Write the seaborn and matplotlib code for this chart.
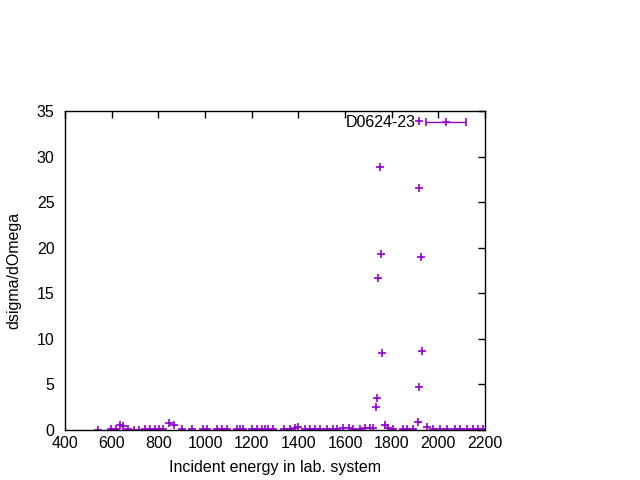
"""
Differential cross section vs incident energy (D0624-23)
"""
import matplotlib
matplotlib.use("Agg")
import matplotlib.pyplot as plt
from matplotlib.container import ErrorbarContainer
from matplotlib.legend_handler import HandlerErrorbar
import seaborn as sns
import pandas as pd

# data
energy = [543, 596, 619, 636, 647, 669, 696, 719, 743, 764, 786, 804, 821, 846, 869,
          900, 943, 993, 1007, 1050, 1071, 1093, 1136, 1150, 1164, 1200, 1221, 1243,
          1257, 1271, 1293, 1339, 1364, 1386, 1400, 1429, 1450, 1471, 1493, 1521, 1550,
          1564, 1593, 1619, 1636, 1664, 1686, 1707, 1721, 1733, 1737, 1741, 1750, 1754,
          1759, 1771, 1786, 1807, 1850, 1864, 1893, 1914, 1917, 1917, 1917, 1926, 1930,
          1950, 1979, 2007, 2036, 2071, 2093, 2121, 2150, 2171, 2193]
dsigma = [0.05, 0.1, 0.15, 0.55, 0.4, 0.1, 0.05, 0.05, 0.1, 0.1, 0.1, 0.1, 0.15, 0.75,
          0.5, 0.15, 0.1, 0.1, 0.1, 0.1, 0.1, 0.1, 0.1, 0.1, 0.1, 0.1, 0.1, 0.1,
          0.1, 0.1, 0.15, 0.1, 0.1, 0.2, 0.3, 0.1, 0.1, 0.1, 0.1, 0.1, 0.1,
          0.15, 0.2, 0.2, 0.1, 0.15, 0.2, 0.2, 0.2, 2.5, 3.5, 16.7, 28.8, 19.3,
          8.4, 0.6, 0.2, 0.1, 0.1, 0.1, 0.1, 0.9, 4.7, 26.6, 33.9, 19.0, 8.7,
          0.3, 0.1, 0.1, 0.1, 0.1, 0.1, 0.1, 0.1, 0.1, 0.1]
energy_err = [6] * len(energy)

df = pd.DataFrame({"energy": energy, "dsigma": dsigma, "err": energy_err})

sns.set_style("white", {"text.color": "black", "axes.labelcolor": "black"})
plt.rcParams["font.family"] = ["Liberation Sans", "DejaVu Sans"]

color = "#9400d3"

fig = plt.figure(figsize=(6.4, 4.8), dpi=100)
ax = fig.add_axes([0.1016, 0.1042, 0.6562, 0.6646])

eb = ax.errorbar(df["energy"], df["dsigma"], xerr=df["err"], fmt="+", color=color,
                 markersize=5.5, mew=1.2, elinewidth=1, capsize=3,
                 label="D0624-23")

ax.set_xlim(400, 2200)
ax.set_ylim(0, 35)
ax.set_xticks(range(400, 2201, 200))
ax.set_yticks(range(0, 36, 5))
ax.tick_params(direction="in", top=True, right=True, length=5, width=1,
               labelsize=11.5, colors="black", pad=4)
ax.tick_params(axis="y", pad=7.5)
for s in ax.spines.values():
    s.set_color("black")
    s.set_linewidth(1)

ax.set_xlabel("Incident energy in lab. system", fontsize=11.5, labelpad=7, color="black")
ax.set_ylabel("dsigma/dOmega", fontsize=11.5, labelpad=11.5, color="black")

leg = ax.legend(loc="upper right", frameon=False, markerfirst=False, fontsize=11.5,
                handlelength=2.6, handletextpad=0.6, borderaxespad=0.0, borderpad=0.0,
                bbox_to_anchor=(0.957, 0.987), labelcolor="black",
                handler_map={ErrorbarContainer: HandlerErrorbar(xerr_size=1.25)})

# the key keeps its end ticks, the data points do not show them
for cap in eb[1]:
    cap.set_visible(False)

fig.savefig("out.png", dpi=100)
